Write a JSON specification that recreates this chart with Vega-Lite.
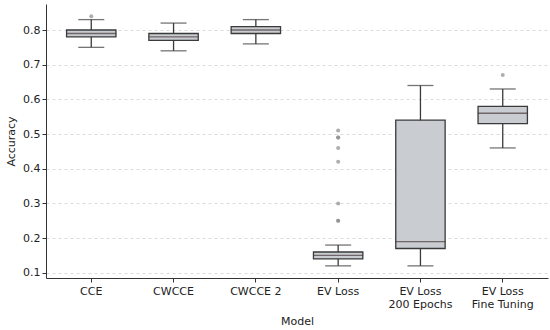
{
  "$schema": "https://vega.github.io/schema/vega-lite/v6.json",
  "width": 550,
  "height": 330,
  "autosize": {"type": "fit", "contains": "padding"},
  "padding": {"left": 5, "top": 4, "right": 2, "bottom": 4},
  "background": "white",
  "config": {
    "font": "DejaVu Sans",
    "view": {"stroke": null},
    "axis": {
      "labelFont": "DejaVu Sans",
      "titleFont": "DejaVu Sans",
      "labelFontSize": 11,
      "titleFontSize": 11,
      "titleFontWeight": "normal",
      "labelColor": "#222",
      "titleColor": "#222",
      "domainColor": "#333",
      "tickColor": "#333",
      "labelOverlap": false
    },
    "axisY": {
      "grid": true,
      "gridColor": "#cccccc",
      "gridDash": [3, 3],
      "gridWidth": 0.7,
      "tickSize": 4,
      "titlePadding": 6
    }
  },
  "datasets": {
    "boxes": [
      {"model": "CCE", "lo": 0.75, "q1": 0.78, "median": 0.79, "q3": 0.80, "hi": 0.83},
      {"model": "CWCCE", "lo": 0.74, "q1": 0.77, "median": 0.78, "q3": 0.79, "hi": 0.82},
      {"model": "CWCCE 2", "lo": 0.76, "q1": 0.79, "median": 0.80, "q3": 0.81, "hi": 0.83},
      {"model": "EV Loss", "lo": 0.12, "q1": 0.14, "median": 0.15, "q3": 0.16, "hi": 0.18},
      {"model": "EV Loss|200 Epochs", "lo": 0.12, "q1": 0.17, "median": 0.19, "q3": 0.54, "hi": 0.64},
      {"model": "EV Loss|Fine Tuning", "lo": 0.46, "q1": 0.53, "median": 0.56, "q3": 0.58, "hi": 0.63}
    ],
    "outliers": [
      {"model": "CCE", "value": 0.84},
      {"model": "EV Loss", "value": 0.25},
      {"model": "EV Loss", "value": 0.25},
      {"model": "EV Loss", "value": 0.30},
      {"model": "EV Loss", "value": 0.42},
      {"model": "EV Loss", "value": 0.46},
      {"model": "EV Loss", "value": 0.49},
      {"model": "EV Loss", "value": 0.49},
      {"model": "EV Loss", "value": 0.51},
      {"model": "EV Loss|Fine Tuning", "value": 0.67}
    ]
  },
  "encoding": {
    "x": {
      "field": "model",
      "type": "nominal",
      "sort": null,
      "title": "Model",
      "scale": {"paddingInner": 0, "paddingOuter": 0.05},
      "axis": {"labelAngle": 0, "labelExpr": "split(datum.label, '|')", "labelLineHeight": 13, "titlePadding": 6, "tickSize": 4, "labelPadding": 3}
    }
  },
  "layer": [
    {
      "data": {"name": "boxes"},
      "mark": {"type": "rule", "color": "#3a3a3a", "strokeWidth": 1.3},
      "encoding": {
        "y": {
          "field": "lo",
          "type": "quantitative",
          "title": "Accuracy",
          "scale": {"domain": [0.085, 0.875], "nice": false, "zero": false},
          "axis": {"values": [0.1, 0.2, 0.3, 0.4, 0.5, 0.6, 0.7, 0.8], "format": ".1f"}
        },
        "y2": {"field": "hi"}
      }
    },
    {
      "data": {"name": "boxes"},
      "mark": {"type": "bar", "width": {"band": 0.6}, "fill": "#c9ccd1", "stroke": "#3a3a3a", "strokeWidth": 1.3},
      "encoding": {
        "y": {"field": "q1", "type": "quantitative", "title": "Accuracy", "axis": {"values": [0.1, 0.2, 0.3, 0.4, 0.5, 0.6, 0.7, 0.8], "format": ".1f"}},
        "y2": {"field": "q3"}
      }
    },
    {
      "data": {"name": "boxes"},
      "mark": {"type": "tick", "color": "#4a3a3a", "thickness": 1.3, "size": 50},
      "encoding": {"y": {"field": "median", "type": "quantitative", "title": "Accuracy", "axis": {"values": [0.1, 0.2, 0.3, 0.4, 0.5, 0.6, 0.7, 0.8], "format": ".1f"}}}
    },
    {
      "data": {"name": "boxes"},
      "mark": {"type": "tick", "color": "#3a3a3a", "thickness": 1.3, "size": 26},
      "encoding": {"y": {"field": "lo", "type": "quantitative", "title": "Accuracy", "axis": {"values": [0.1, 0.2, 0.3, 0.4, 0.5, 0.6, 0.7, 0.8], "format": ".1f"}}}
    },
    {
      "data": {"name": "boxes"},
      "mark": {"type": "tick", "color": "#3a3a3a", "thickness": 1.3, "size": 26},
      "encoding": {"y": {"field": "hi", "type": "quantitative", "title": "Accuracy", "axis": {"values": [0.1, 0.2, 0.3, 0.4, 0.5, 0.6, 0.7, 0.8], "format": ".1f"}}}
    },
    {
      "data": {"name": "outliers"},
      "mark": {"type": "circle", "size": 16, "color": "#8a8a8a", "opacity": 0.7},
      "encoding": {"y": {"field": "value", "type": "quantitative", "title": "Accuracy", "axis": {"values": [0.1, 0.2, 0.3, 0.4, 0.5, 0.6, 0.7, 0.8], "format": ".1f"}}}
    }
  ]
}
